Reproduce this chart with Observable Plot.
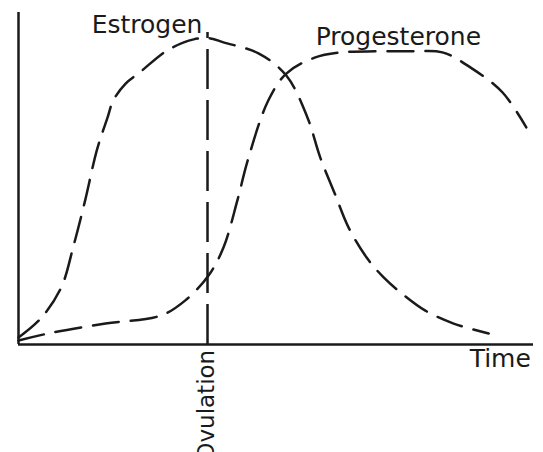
<!DOCTYPE html>
<html>
<head>
<meta charset="utf-8">
<script src="https://cdn.jsdelivr.net/npm/d3@7"></script>
<script src="https://cdn.jsdelivr.net/npm/@observablehq/plot@0.6"></script>
<style>
  html, body { margin: 0; padding: 0; background: #fff; }
  #chart svg { display: block; }
</style>
</head>
<body>
<div id="chart"></div>
<script>
// Relative time (0-100) and relative hormone level (0-100)
const estrogenTime  = [0, 4.3, 8.3, 10.7, 12.8, 15.3, 17.3, 18.4, 20.8, 23.5, 28.9, 34, 37.3, 39.8, 46.6, 52, 56.1, 58.6, 61.4, 64.1, 67.6, 70.9, 74.4, 79, 84.5, 91.3];
const estrogenLevel = [2.1, 7.8, 17.2, 29.8, 42.5, 59.0, 68.4, 73.5, 78.6, 81.9, 88.6, 91.9, 92.2, 91.0, 87.7, 81, 68.4, 56.3, 45.5, 35.2, 26.2, 20.2, 15.4, 10.2, 6.3, 3.3];

const progesteroneTime  = [0, 6.6, 16.9, 27.6, 32.4, 36.9, 39.8, 42.5, 44.5, 48.5, 52, 57.5, 62.7, 69.5, 76.3, 82.3, 87.8, 94, 98.6];
const progesteroneLevel = [1.2, 3.6, 6.3, 8.7, 13.3, 20.8, 29.2, 43.4, 55.4, 73.5, 81.6, 86.4, 88, 88.3, 88.3, 88, 83.4, 75.9, 65.4];

const ovulationTime = 36.7;
const ovulationTop = 94;

const seriesNames = ["Estrogen", "Progesterone"];
const labelTime = [14.2, 57.7];
const labelLevel = [93.7, 90.1];
const axisLabel = "Time";
const eventLabel = "Ovulation";

const estrogen = estrogenTime.map((t, i) => ({t, v: estrogenLevel[i]}));
const progesterone = progesteroneTime.map((t, i) => ({t, v: progesteroneLevel[i]}));
const labels = seriesNames.map((name, i) => ({name, t: labelTime[i], v: labelLevel[i]}));

const font = "DejaVu Sans, Verdana, sans-serif";
const ink = "#1a1a1a";

const chart = Plot.plot({
  width: 543,
  height: 452,
  marginLeft: 18,
  marginRight: 10,
  marginTop: 12,
  marginBottom: 108,
  x: {domain: [0, 100], axis: null},
  y: {domain: [0, 100], axis: null},
  style: {fontFamily: font, background: "#fff", overflow: "visible"},
  marks: [
    // axes
    Plot.ruleX([0], {y1: 0, y2: 100, stroke: ink, strokeWidth: 2.5}),
    Plot.ruleY([0], {x1: 0, x2: 100, stroke: ink, strokeWidth: 2.5}),
    // ovulation marker
    Plot.ruleX([ovulationTime], {y1: 0, y2: ovulationTop, stroke: ink, strokeWidth: 2.5, strokeDasharray: "40,11"}),
    // hormone curves
    Plot.line(estrogen, {x: "t", y: "v", curve: "catmull-rom", stroke: ink, strokeWidth: 2.5, strokeDasharray: "26,12"}),
    Plot.line(progesterone, {x: "t", y: "v", curve: "catmull-rom", stroke: ink, strokeWidth: 2.5, strokeDasharray: "26,12"}),
    // labels
    Plot.text(labels, {x: "t", y: "v", text: "name", textAnchor: "start", lineAnchor: "bottom", fontSize: 25, fill: ink}),
    Plot.text([axisLabel], {x: 87.6, y: -6.9, text: d => d, textAnchor: "start", lineAnchor: "bottom", fontSize: 25, fill: ink}),
    Plot.text([eventLabel], {x: 37.9, y: -1.6, text: d => d, rotate: -90, textAnchor: "end", lineAnchor: "bottom", fontSize: 23, fill: ink})
  ]
});
document.getElementById("chart").appendChild(chart);
</script>
</body>
</html>
